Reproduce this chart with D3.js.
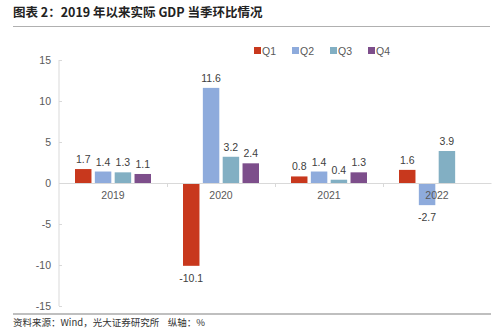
<!DOCTYPE html>
<meta charset="utf-8">
<style>
  body { margin: 0; background: #fff; }
  svg text { font-family: "Liberation Sans", Arial, "Noto Sans CJK SC", sans-serif; }
</style>
<svg width="500" height="331"></svg>
<script src="https://d3js.org/d3.v7.min.js"></script>
<script>

var years = ["2019", "2020", "2021", "2022"],
    quarters = ["Q1", "Q2", "Q3", "Q4"],
    q1 = [1.7, -10.1, 0.8, 1.6],
    q2 = [1.4, 11.6, 1.4, -2.7],
    q3 = [1.3, 3.2, 0.4, 3.9],
    q4 = [1.1, 2.4, 1.3, null],
    yTicks = [-15, -10, -5, 0, 5, 10, 15],
    colors = ["#c8381d", "#8eabdc", "#82afc3", "#7d4e8b"];

var series = [q1, q2, q3, q4];

var svg = d3.select("svg"),
    plotLeft = 59, plotRight = 491, plotTop = 60, plotBottom = 306;

var x = d3.scaleBand().domain(years).range([plotLeft, plotRight]),
    xq = d3.scaleBand().domain(quarters).range([16, x.bandwidth() - 16]).paddingInner(0.17),
    y = d3.scaleLinear().domain([-15, 15]).range([plotBottom, plotTop]);

// title
svg.append("text").attr("x", 13).attr("y", 17)
    .attr("font-size", 12.5).attr("font-weight", "bold").attr("fill", "#222")
    .style("font-family", "'Noto Sans CJK SC', sans-serif")
    .text("图表 2：2019 年以来实际 GDP 当季环比情况");
svg.append("line").attr("x1", 13).attr("x2", 490).attr("y1", 26.5).attr("y2", 26.5)
    .attr("stroke", "#b0b0b0");

// y axis
var yAxis = svg.append("g").attr("transform", "translate(" + plotLeft + ",0)")
    .call(d3.axisLeft(y).tickValues(yTicks).tickFormat(d => String(d)).tickSize(-3).tickPadding(8));
yAxis.select(".domain").attr("stroke", "#d9d9d9").attr("d", "M0," + plotTop + "V" + plotBottom);
yAxis.selectAll(".tick line").attr("stroke", "#d9d9d9");
yAxis.selectAll("text").attr("fill", "#595959").attr("font-size", 10.5);

// bars
series.forEach(function(vals, i) {
  var g = svg.append("g");
  var data = years.map((yr, j) => ({year: yr, v: vals[j]})).filter(d => d.v != null);
  g.selectAll("rect").data(data).enter().append("rect")
      .attr("x", d => x(d.year) + xq(quarters[i]))
      .attr("width", xq.bandwidth())
      .attr("y", d => y(Math.max(0, d.v)))
      .attr("height", d => Math.abs(y(d.v) - y(0)))
      .attr("fill", colors[i]);
  g.selectAll("text").data(data).enter().append("text")
      .attr("x", d => x(d.year) + xq(quarters[i]) + xq.bandwidth() / 2)
      .attr("y", d => d.v >= 0 ? y(d.v) - 6 : y(d.v) + 16)
      .attr("text-anchor", "middle").attr("font-size", 10.5).attr("fill", "#404040")
      .text(d => d.v.toFixed(1));
});

// x axis at zero, drawn over the bars
var xAxis = svg.append("g").attr("transform", "translate(0," + y(0) + ")")
    .call(d3.axisBottom(x).tickSize(0).tickPadding(9));
xAxis.select(".domain").attr("stroke", "#d9d9d9");
xAxis.selectAll("text").attr("fill", "#595959").attr("font-size", 10.5);
xAxis.selectAll(".sep").data(years.slice(1)).enter().append("line")
    .attr("x1", d => x(d) + 0.5).attr("x2", d => x(d) + 0.5)
    .attr("y1", 0).attr("y2", 4).attr("stroke", "#d9d9d9");

// legend
var leg = svg.append("g").selectAll("g").data(quarters).enter().append("g")
    .attr("transform", (d, i) => "translate(" + (254 + i * 38) + ",47)");
leg.append("rect").attr("width", 7).attr("height", 7).attr("fill", (d, i) => colors[i]);
leg.append("text").attr("x", 8).attr("y", 7.5).attr("font-size", 10.5)
    .attr("fill", "#595959").text(d => d);

// footer
svg.append("line").attr("x1", 13).attr("x2", 491).attr("y1", 314).attr("y2", 314)
    .attr("stroke", "#bfbfbf").attr("stroke-width", 2);
svg.append("text").attr("x", 13).attr("y", 326).attr("font-size", 9.5).attr("fill", "#333")
    .style("font-family", "'Noto Sans CJK SC', sans-serif")
    .style("white-space", "pre")
    .text("资料来源：Wind，光大证券研究所    纵轴：%");

</script>
